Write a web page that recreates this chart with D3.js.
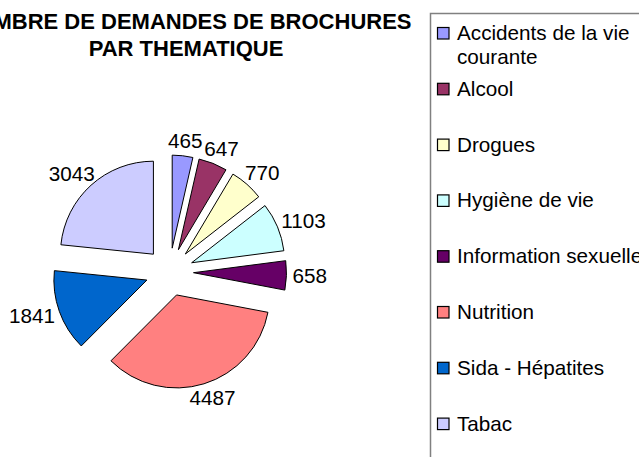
<!DOCTYPE html>
<html>
<head>
<meta charset="utf-8">
<script src="https://cdn.jsdelivr.net/npm/d3@7"></script>
<style>
  html, body { margin: 0; padding: 0; background: #fff; }
  svg { display: block; font-family: "Liberation Sans", Arial, sans-serif; }
</style>
</head>
<body>
<svg id="chart" width="639" height="457"></svg>
<script>
const categories = ["Accidents de la vie courante", "Alcool", "Drogues", "Hygiène de vie",
  "Information sexuelle", "Nutrition", "Sida - Hépatites", "Tabac"];
const values = [465, 647, 770, 1103, 658, 4487, 1841, 3043];
const colors = ["#9999FF", "#993366", "#FFFFCC", "#CCFFFF", "#660066", "#FF8080", "#0066CC", "#CCCCFF"];
const titleLines = ["NOMBRE DE DEMANDES DE BROCHURES", "PAR THEMATIQUE"];
const legendLines = [["Accidents de la vie", "courante"], ["Alcool"], ["Drogues"], ["Hygiène de vie"],
  ["Information sexuelle"], ["Nutrition"], ["Sida - Hépatites"], ["Tabac"]];

const svg = d3.select("#chart");
const W = 639, H = 457;
const cx = 169.5, cy = 272, R = 93, explode = 24, labelGap = 6;
const fontSize = 20.7;

// Title
svg.append("g").selectAll("text").data(titleLines).join("text")
  .attr("x", 186).attr("y", (d, i) => 29 + i * 27)
  .attr("text-anchor", "middle")
  .attr("font-size", 22).attr("font-weight", "bold").attr("fill", "#000")
  .text(d => d);

// Pie
const pie = d3.pie().sort(null).value(d => d)(values);
const arc = d3.arc().innerRadius(0).outerRadius(R);
const g = svg.append("g").attr("transform", `translate(${cx},${cy})`);
const mid = d => (d.startAngle + d.endAngle) / 2;

g.selectAll("path").data(pie).join("path")
  .attr("transform", d => `translate(${explode * Math.sin(mid(d))},${-explode * Math.cos(mid(d))})`)
  .attr("d", arc)
  .attr("fill", (d, i) => colors[i])
  .attr("stroke", "#000").attr("stroke-width", 1).attr("stroke-linejoin", "round");

// Labels
const labels = g.selectAll("text.lbl").data(pie).join("text")
  .attr("class", "lbl")
  .attr("font-size", fontSize).attr("fill", "#000")
  .attr("text-anchor", "middle")
  .text(d => d.data);
labels.each(function(d) {
  const w = this.getComputedTextLength();
  const h = 18;
  const a = mid(d);
  const ux = Math.sin(a), uy = -Math.cos(a);
  const rr = R + explode + labelGap;
  const x = rr * ux + ux * w / 2;
  const y = rr * uy + uy * h / 2;
  d3.select(this).attr("x", x).attr("y", y + 7);
});

// Legend
const lg = svg.append("g");
lg.append("path")
  .attr("d", `M${W + 5},13.5 H430.5 V${H + 5}`)
  .attr("fill", "none").attr("stroke", "#808080").attr("stroke-width", 1.5);

const items = lg.selectAll("g.item").data(categories).join("g")
  .attr("class", "item")
  .attr("transform", (d, i) => `translate(0,${33 + i * 55.8})`);
items.append("rect")
  .attr("x", 437.5).attr("y", -5.5).attr("width", 11.5).attr("height", 11.5)
  .attr("fill", (d, i) => colors[i]).attr("stroke", "#000").attr("stroke-width", 1.2);
items.append("text")
  .attr("x", 457).attr("y", 7)
  .attr("font-size", fontSize).attr("fill", "#000")
  .selectAll("tspan").data((d, i) => legendLines[i]).join("tspan")
  .attr("x", 457).attr("dy", (d, j) => j === 0 ? 0 : 23.5)
  .text(d => d);
</script>
</body>
</html>
